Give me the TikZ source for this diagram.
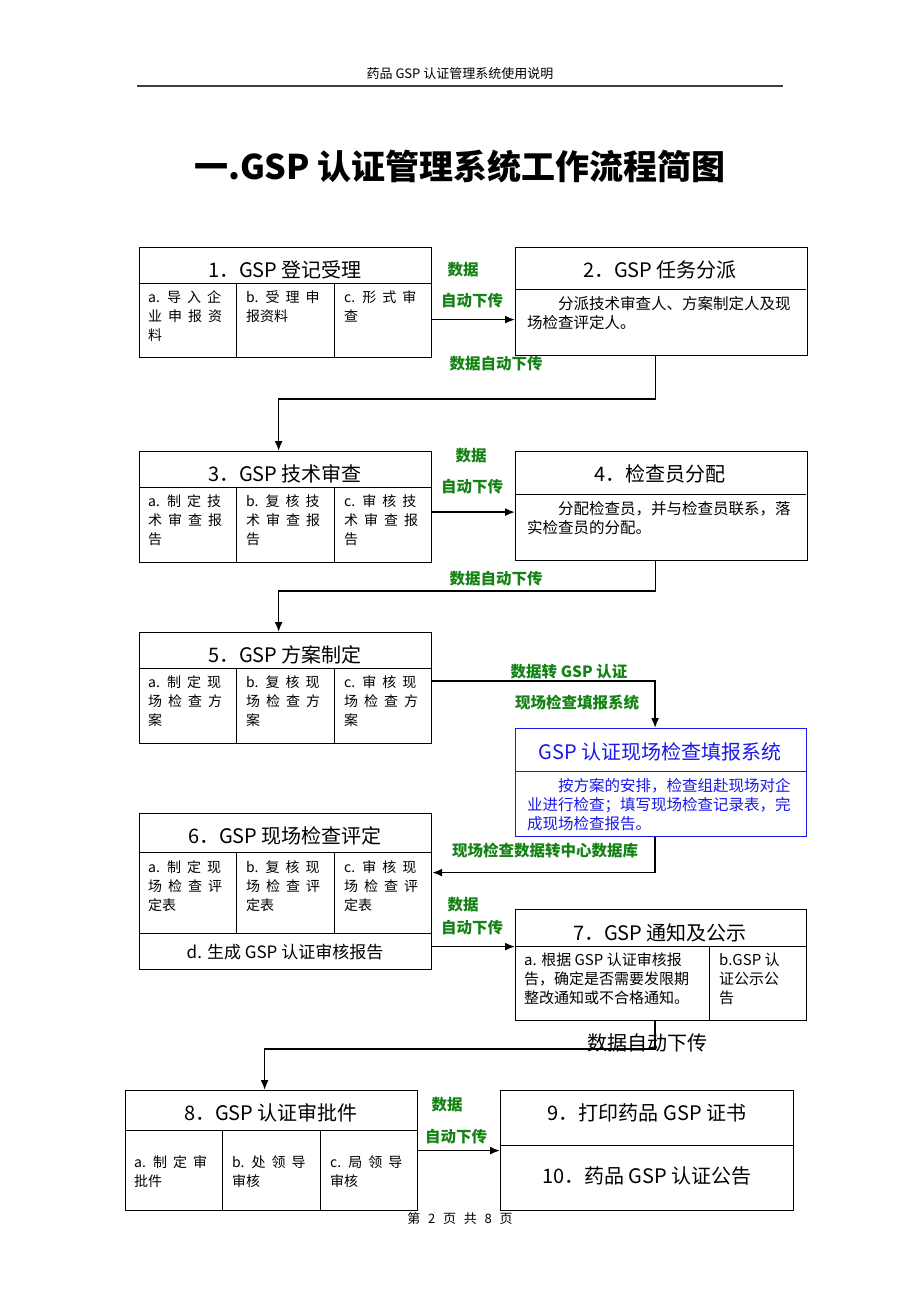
\documentclass[tikz,border=0pt]{standalone}
\usepackage{fontspec}
\setmainfont{Noto Sans CJK SC}
\usepackage{tikz}
\usetikzlibrary{arrows.meta}
\definecolor{flow_green}{RGB}{20, 130, 20}
\definecolor{sys_blue}{RGB}{25, 25, 235}
\newcommand{\wideskip}{\spaceskip=6pt\relax}

\tikzset{
  box/.style={draw, line width=1.2pt, anchor=north west, inner sep=0pt,
    minimum width=292pt},
  rule/.style={line width=1pt},
  ttl/.style={inner sep=0pt, font=\fontsize{20}{24}\selectfont},
  cell/.style={anchor=north west, align=left, inner sep=0pt,
    font=\fontsize{14}{19}\selectfont\wideskip},
  para/.style={anchor=north west, align=left, inner sep=0pt,
    font=\fontsize{15.5}{19}\selectfont},
  tag/.style={inner sep=0pt, text=flow_green,
    font=\fontsize{15.5}{18}\selectfont\bfseries},
  flow/.style={line width=1.6pt, -{Latex[length=10pt, width=8pt]}},
}

\begin{document}
\begin{tikzpicture}[x=1pt, y=-1pt]
\useasboundingbox (0,0) rectangle (920,1302);
\fill[white] (0,0) rectangle (920,1302);

% page head
\node[inner sep=0pt, font=\fontsize{13}{15}\selectfont] (head) at (460,74) {药品 GSP 认证管理系统使用说明};
\draw[line width=1.5pt, black!75] (137,86) -- (783,86);
\node[inner sep=0pt, font=\fontsize{34}{40}\selectfont\bfseries] (title) at (460,167) {一.GSP 认证管理系统工作流程简图};

% 1
\node[box, minimum height=110pt] (b1) at (139,247) {};
\node[ttl] (t1) at (285,270) {1．GSP 登记受理};
\draw[rule] (139,283) -- (431,283);
\draw[rule] (236,283) -- (236,357);
\draw[rule] (334,283) -- (334,357);
\node[cell] (c1a) at (148,290) {a. 导 入 企\\业 申 报 资\\料};
\node[cell] (c1b) at (246,290) {b. 受 理 申\\报资料};
\node[cell] (c1c) at (344,290) {c. 形 式 审\\查};

% 2
\node[box, minimum height=108pt] (b2) at (515,247) {};
\node[ttl] (t2) at (660,270) {2．GSP 任务分派};
\draw[rule] (515,289) -- (806,289);
\node[para] (p2) at (527,296) {\hspace*{2em}分派技术审查人、方案制定人及现\\场检查评定人。};

% 3
\node[box, minimum height=111pt] (b3) at (139,451) {};
\node[ttl] (t3) at (285,474) {3．GSP 技术审查};
\draw[rule] (139,487) -- (431,487);
\draw[rule] (236,487) -- (236,562);
\draw[rule] (334,487) -- (334,562);
\node[cell] (c3a) at (148,494) {a. 制 定 技\\术 审 查 报\\告};
\node[cell] (c3b) at (246,494) {b. 复 核 技\\术 审 查 报\\告};
\node[cell] (c3c) at (344,494) {c. 审 核 技\\术 审 查 报\\告};

% 4
\node[box, minimum height=109pt] (b4) at (515,451) {};
\node[ttl] (t4) at (660,474) {4．检查员分配};
\draw[rule] (515,494) -- (806,494);
\node[para] (p4) at (527,501) {\hspace*{2em}分配检查员，并与检查员联系，落\\实检查员的分配。};

% 5
\node[box, minimum height=111pt] (b5) at (139,632) {};
\node[ttl] (t5) at (285,655) {5．GSP 方案制定};
\draw[rule] (139,668) -- (431,668);
\draw[rule] (236,668) -- (236,743);
\draw[rule] (334,668) -- (334,743);
\node[cell] (c5a) at (148,675) {a. 制 定 现\\场 检 查 方\\案};
\node[cell] (c5b) at (246,675) {b. 复 核 现\\场 检 查 方\\案};
\node[cell] (c5c) at (344,675) {c. 审 核 现\\场 检 查 方\\案};

% on-site system
\node[box, draw=sys_blue, minimum width=291pt, minimum height=108pt] (sys) at (515,728) {};
\node[ttl, text=sys_blue] (tsys) at (660,752) {GSP 认证现场检查填报系统};
\draw[rule, sys_blue] (515,771) -- (806,771);
\node[para, text=sys_blue] (psys) at (527,778) {\hspace*{2em}按方案的安排，检查组赴现场对企\\业进行检查；填写现场检查记录表，完\\成现场检查报告。};

% 6
\node[box, minimum height=156pt] (b6) at (139,813) {};
\node[ttl] (t6) at (285,836) {6．GSP 现场检查评定};
\draw[rule] (139,852) -- (431,852);
\draw[rule] (139,933) -- (431,933);
\draw[rule] (236,852) -- (236,933);
\draw[rule] (334,852) -- (334,933);
\node[cell] (c6a) at (148,860) {a. 制 定 现\\场 检 查 评\\定表};
\node[cell] (c6b) at (246,860) {b. 复 核 现\\场 检 查 评\\定表};
\node[cell] (c6c) at (344,860) {c. 审 核 现\\场 检 查 评\\定表};
\node[inner sep=0pt, font=\fontsize{17}{20}\selectfont] (c6d) at (285,952) {d. 生成 GSP 认证审核报告};

% 7
\node[box, minimum width=291pt, minimum height=111pt] (b7) at (515,909) {};
\node[ttl] (t7) at (660,933) {7．GSP 通知及公示};
\draw[rule] (515,946) -- (806,946);
\draw[rule] (709,946) -- (709,1020);
\node[cell, font=\fontsize{15}{19}\selectfont] (c7a) at (524,953) {a. 根据 GSP 认证审核报\\告，确定是否需要发限期\\整改通知或不合格通知。};
\node[cell, font=\fontsize{15}{19}\selectfont] (c7b) at (719,953) {b.GSP 认\\证公示公\\告};

% 8
\node[box, minimum height=120pt] (b8) at (125,1090) {};
\node[ttl] (t8) at (271,1113) {8．GSP 认证审批件};
\draw[rule] (125,1130) -- (417,1130);
\draw[rule] (222,1130) -- (222,1210);
\draw[rule] (320,1130) -- (320,1210);
\node[cell, anchor=west] (c8a) at (134,1172) {a. 制 定 审\\批件};
\node[cell, anchor=west] (c8b) at (232,1172) {b. 处 领 导\\审核};
\node[cell, anchor=west] (c8c) at (330,1172) {c. 局 领 导\\审核};

% 9 and 10
\node[box, minimum width=293pt, minimum height=120pt] (b9) at (500,1090) {};
\draw[rule] (500,1145) -- (793,1145);
\node[ttl] (t9) at (647,1113) {9．打印药品 GSP 证书};
\node[ttl] (t10) at (647,1176) {10．药品 GSP 认证公告};

% connectors
\coordinate (a12) at ([yshift=-17pt]b1.east);
\draw[flow] (a12) -- (a12 -| b2.west);
\node[tag] (g1) at (463,270) {数据};
\node[tag] (g2) at (472,301) {自动下传};

\draw[flow] ([xshift=-6pt]b2.south) -- ++(0,43) -| ([xshift=-7pt]b3.north);
\node[tag] (g3) at (496,364) {数据自动下传};

\coordinate (a34) at ([yshift=-5pt]b3.east);
\draw[flow] (a34) -- (a34 -| b4.west);
\node[tag] (g4) at (471,456) {数据};
\node[tag] (g5) at (472,487) {自动下传};

\draw[flow] ([xshift=-6pt]b4.south) -- ++(0,30) -| ([xshift=-7pt]b5.north);
\node[tag] (g6) at (496,579) {数据自动下传};

\draw[flow] ([yshift=7pt]b5.east) -| ([xshift=-6pt]sys.north);
\node[tag] (g7) at (569,672) {数据转 GSP 认证};
\node[tag] (g8) at (577,703) {现场检查填报系统};

\draw[flow] ([xshift=-6pt]sys.south) |- ([yshift=19pt]b6.east);
\node[tag] (g9) at (545,851) {现场检查数据转中心数据库};

\coordinate (a67) at ([yshift=-55pt]b6.east);
\draw[flow] (a67) -- (a67 -| b7.west);
\node[tag] (g10) at (463,905) {数据};
\node[tag] (g11) at (472,928) {自动下传};

\draw[flow] ([xshift=-6pt]b7.south) -- ++(0,28) -| ([xshift=-7pt]b8.north);
\node[inner sep=0pt, font=\fontsize{20}{24}\selectfont] (g12) at (647,1043) {数据自动下传};

\draw[flow] (b8.east) -- (b9.west);
\node[tag] (g13) at (447,1105) {数据};
\node[tag] (g14) at (456,1137) {自动下传};

% page foot
\node[inner sep=0pt, font=\fontsize{13}{15}\selectfont] (foot) at (460,1219) {第\hspace{0.6em}2\hspace{0.6em}页\hspace{0.6em}共\hspace{0.6em}8\hspace{0.6em}页};
\end{tikzpicture}
\end{document}
